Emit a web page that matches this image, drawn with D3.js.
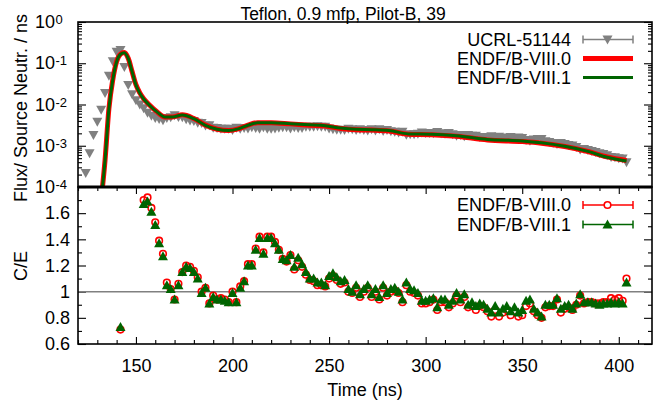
<!DOCTYPE html>
<html>
<head>
<meta charset="utf-8">
<script src="https://cdn.jsdelivr.net/npm/d3@7"></script>
<style>
body { margin: 0; background: #fff; }
text { font-family: "Liberation Sans", Arial, Helvetica, sans-serif; fill: #000; }
</style>
</head>
<body>
<script>
// measured flux (UCRL-51144), ns / flux per source neutron
var expTime = [124,126,128,130,132,134,136,138,140,142,144,146,148,150,152,154,156,158,160,162,
  164,166,168,170,172,174,176,178,180,182,184,186,188,190,192,194,196,198,200,202,
  204,206,208,210,212,214,216,218,220,222,224,226,228,230,232,234,236,238,240,242,
  244,246,248,250,252,254,256,258,260,262,264,266,268,270,272,274,276,278,280,282,
  284,286,288,290,292,294,296,298,300,302,304,306,308,310,312,314,316,318,320,322,
  324,326,328,330,332,334,336,338,340,342,344,346,348,350,352,354,356,358,360,362,
  364,366,368,370,372,374,376,378,380,382,384,386,388,390,392,394,396,398,400,402,404];
var expFlux = [2.19e-4,6.61e-4,1.82e-3,3.80e-3,7.41e-3,1.91e-2,5.01e-2,0.112,0.191,0.209,
  8.13e-2,2.95e-2,1.78e-2,1.26e-2,1.00e-2,8.13e-3,6.31e-3,5.37e-3,4.68e-3,4.47e-3,
  4.17e-3,4.68e-3,4.90e-3,5.50e-3,5.01e-3,4.90e-3,4.37e-3,4.07e-3,3.98e-3,3.63e-3,
  3.55e-3,3.09e-3,3.16e-3,2.75e-3,2.69e-3,2.57e-3,2.57e-3,2.57e-3,2.40e-3,2.75e-3,
  2.57e-3,2.69e-3,2.63e-3,2.82e-3,2.69e-3,2.57e-3,2.82e-3,2.57e-3,2.57e-3,2.63e-3,
  2.75e-3,2.82e-3,2.82e-3,2.63e-3,2.82e-3,2.69e-3,2.69e-3,2.88e-3,2.88e-3,2.88e-3,
  2.95e-3,2.88e-3,2.88e-3,2.63e-3,2.51e-3,2.45e-3,2.45e-3,2.40e-3,2.57e-3,2.51e-3,
  2.40e-3,2.51e-3,2.40e-3,2.34e-3,2.51e-3,2.34e-3,2.51e-3,2.29e-3,2.40e-3,2.24e-3,
  2.19e-3,2.09e-3,2.19e-3,1.86e-3,1.91e-3,1.91e-3,1.95e-3,2.09e-3,2.04e-3,2.04e-3,
  2.00e-3,2.14e-3,2.00e-3,1.95e-3,2.04e-3,1.91e-3,1.74e-3,1.82e-3,1.70e-3,1.82e-3,
  1.74e-3,1.74e-3,1.62e-3,1.62e-3,1.62e-3,1.70e-3,1.58e-3,1.66e-3,1.58e-3,1.55e-3,
  1.62e-3,1.51e-3,1.58e-3,1.55e-3,1.38e-3,1.32e-3,1.41e-3,1.45e-3,1.45e-3,1.29e-3,
  1.23e-3,1.17e-3,1.10e-3,1.17e-3,1.10e-3,1.05e-3,1.02e-3,9.33e-4,8.13e-4,8.32e-4,
  7.94e-4,7.41e-4,7.08e-4,6.61e-4,6.31e-4,5.89e-4,5.37e-4,5.25e-4,5.01e-4,4.90e-4,3.98e-4];

// calculated flux curves
var calcTime = [132,134,136,138,140,142,144,146,148,150,152,154,157,161,165,169,174,180,186,192,
  198,203,208,213,220,230,240,248,256,264,272,281,291,303,316,332,350,360,372,384,394,404];
var calcB80 = [5.0e-5,4.47e-4,7.94e-3,3.98e-2,0.110,0.166,0.182,0.132,6.31e-2,3.02e-2,
  1.91e-2,1.38e-2,9.77e-3,6.61e-3,5.01e-3,5.01e-3,5.62e-3,4.57e-3,3.16e-3,2.51e-3,
  2.34e-3,2.57e-3,3.16e-3,3.63e-3,3.63e-3,3.39e-3,3.16e-3,3.02e-3,2.63e-3,2.45e-3,
  2.40e-3,2.29e-3,1.91e-3,1.86e-3,1.70e-3,1.38e-3,1.26e-3,1.15e-3,9.55e-4,7.24e-4,5.37e-4,4.37e-4];
var calcB81 = [5.0e-5,4.40e-4,7.80e-3,3.94e-2,0.109,0.165,0.180,0.131,6.24e-2,2.98e-2,
  1.88e-2,1.36e-2,9.60e-3,6.52e-3,4.96e-3,4.98e-3,5.58e-3,4.53e-3,3.13e-3,2.50e-3,
  2.33e-3,2.56e-3,3.14e-3,3.60e-3,3.61e-3,3.42e-3,3.22e-3,3.07e-3,2.68e-3,2.50e-3,
  2.45e-3,2.34e-3,1.94e-3,1.90e-3,1.74e-3,1.42e-3,1.31e-3,1.18e-3,9.70e-4,7.30e-4,5.25e-4,4.25e-4];

// C/E ratios
var ceTime = [142,154,156,158,160,162,164,166,168,170,172,174,176,178,180,182,184,186,188,190,
  192,194,196,198,200,202,204,206,208,210,212,214,216,218,220,222,224,226,228,230,
  232,234,236,238,240,242,244,246,248,250,252,254,256,258,260,262,264,266,268,270,
  272,274,276,278,280,282,284,286,288,290,292,294,296,298,300,302,304,306,308,310,
  312,314,316,318,320,322,324,326,328,330,332,334,336,338,340,342,344,346,348,350,
  352,354,356,358,360,362,364,366,368,370,372,374,376,378,380,382,384,386,388,390,
  392,394,396,398,400,402,404];
var ceB80 = [0.71,1.70,1.72,1.64,1.53,1.39,1.29,1.07,1.02,0.94,
  1.06,1.15,1.20,1.19,1.16,1.11,1.00,1.03,0.91,0.97,
  0.94,0.95,0.94,0.92,1.00,0.92,1.04,1.08,1.21,1.21,
  1.33,1.42,1.30,1.42,1.42,1.38,1.32,1.25,1.23,1.28,
  1.17,1.24,1.19,1.13,1.09,1.08,1.05,1.05,1.04,1.10,
  1.12,1.09,1.06,1.07,1.00,0.99,1.03,0.96,1.00,1.03,
  0.96,1.00,0.94,1.03,0.97,1.00,1.01,0.99,0.92,1.05,
  1.00,0.99,0.97,0.91,0.91,0.92,0.94,0.86,0.92,0.92,
  0.88,0.91,0.97,0.92,0.96,0.88,0.89,0.86,0.89,0.88,
  0.85,0.81,0.86,0.81,0.84,0.86,0.82,0.85,0.81,0.82,
  0.89,0.91,0.85,0.82,0.80,0.88,0.89,0.89,0.94,0.84,
  0.87,0.88,0.86,0.90,0.97,0.91,0.92,0.92,0.91,0.91,
  0.92,0.92,0.95,0.94,0.95,0.93,1.10];
var ceB81 = [0.73,1.67,1.69,1.61,1.51,1.37,1.27,1.05,1.02,0.94,
  1.05,1.15,1.19,1.18,1.15,1.10,0.99,1.03,0.91,0.96,
  0.94,0.94,0.93,0.92,0.99,0.92,1.03,1.08,1.20,1.20,
  1.32,1.41,1.29,1.41,1.41,1.37,1.32,1.25,1.24,1.28,
  1.19,1.26,1.21,1.15,1.10,1.10,1.07,1.07,1.05,1.12,
  1.14,1.11,1.08,1.09,1.02,1.00,1.05,0.98,1.02,1.05,
  0.98,1.02,0.96,1.05,0.99,1.02,1.03,1.00,0.94,1.07,
  1.02,1.01,0.99,0.93,0.93,0.94,0.95,0.88,0.94,0.94,
  0.90,0.93,0.99,0.94,0.98,0.90,0.92,0.89,0.91,0.90,
  0.87,0.84,0.89,0.84,0.87,0.89,0.85,0.88,0.84,0.86,
  0.93,0.94,0.87,0.84,0.81,0.90,0.90,0.90,0.95,0.87,
  0.89,0.90,0.87,0.91,0.98,0.92,0.92,0.92,0.91,0.90,
  0.91,0.91,0.92,0.91,0.92,0.91,1.07];

var xMajor = [150, 200, 250, 300, 350, 400];
var topMajor = [1, 1e-1, 1e-2, 1e-3, 1e-4];
var topExp = ['0', '-1', '-2', '-3', '-4'];
var botMajor = [0.6, 0.8, 1, 1.2, 1.4, 1.6];
var botMinor = [0.7, 0.9, 1.1, 1.3, 1.5, 1.7];

var width = 654, height = 401;
var L = 78, R = 652, T1 = 22, B1 = 187, T2 = 187, B2 = 344;
var grey = '#808080', red = '#ff0000', green = '#006400';

var svg = d3.select('body').append('svg')
  .attr('width', width)
  .attr('height', height);

var x = d3.scaleLinear().domain([120, 417.2]).range([L, R]);
var yTop = d3.scaleLog().domain([1e-4, 1]).range([B1, T1]);
var yBot = d3.scaleLinear().domain([0.6, 1.8]).range([B2, T2]);

var defs = svg.append('defs');
defs.append('clipPath').attr('id', 'clipTop').append('rect')
  .attr('x', L).attr('y', T1).attr('width', R - L).attr('height', B1 - T1);
defs.append('clipPath').attr('id', 'clipBot').append('rect')
  .attr('x', L).attr('y', T2).attr('width', R - L).attr('height', B2 - T2);

function tidy(g) {
  g.select('.domain').remove();
  g.selectAll('.tick line').attr('stroke', '#000').attr('stroke-width', 1.1);
  g.attr('font-size', 18).attr('font-family', null);
}

// ---- top panel ticks
var topMinor = [];
[1e-4, 1e-3, 1e-2, 1e-1].forEach(function(d) {
  for (var m = 2; m < 10; m++) topMinor.push(d * m);
});

svg.append('g').attr('transform', 'translate(' + L + ',0)')
  .call(d3.axisLeft(yTop).tickValues(topMajor).tickSize(-8).tickFormat('')).call(tidy);
svg.append('g').attr('transform', 'translate(' + L + ',0)')
  .call(d3.axisLeft(yTop).tickValues(topMinor).tickSize(-4).tickFormat('')).call(tidy);
svg.append('g').attr('transform', 'translate(' + R + ',0)')
  .call(d3.axisRight(yTop).tickValues(topMajor).tickSize(-8).tickFormat('')).call(tidy);
svg.append('g').attr('transform', 'translate(' + R + ',0)')
  .call(d3.axisRight(yTop).tickValues(topMinor).tickSize(-4).tickFormat('')).call(tidy);

var topLab = svg.append('g').selectAll('g').data(topMajor).enter().append('g')
  .attr('transform', function(d) { return 'translate(0,' + yTop(d) + ')'; });
topLab.append('text').attr('x', 55).attr('y', 6).attr('text-anchor', 'end')
  .style('font-size', '18px').text('10');
topLab.append('text').attr('x', 55.5).attr('y', 2).attr('text-anchor', 'start')
  .style('font-size', '13px').text(function(d, i) { return topExp[i]; });

// ---- bottom panel ticks
var xMinor = d3.range(120, 411, 10).filter(function(d) { return xMajor.indexOf(d) < 0; });

svg.append('g').attr('transform', 'translate(0,' + B2 + ')')
  .call(d3.axisBottom(x).tickValues(xMajor).tickSize(-7).tickPadding(15)).call(tidy);
svg.append('g').attr('transform', 'translate(0,' + B2 + ')')
  .call(d3.axisBottom(x).tickValues(xMinor).tickSize(-4).tickFormat('')).call(tidy);
svg.append('g').attr('transform', 'translate(0,' + T2 + ')')
  .call(d3.axisTop(x).tickValues(xMajor).tickSize(-7).tickFormat('')).call(tidy);
svg.append('g').attr('transform', 'translate(0,' + T2 + ')')
  .call(d3.axisTop(x).tickValues(xMinor).tickSize(-4).tickFormat('')).call(tidy);

svg.append('g').attr('transform', 'translate(' + L + ',0)')
  .call(d3.axisLeft(yBot).tickValues(botMajor).tickSize(-8).tickPadding(8)
    .tickFormat(function(d) { return String(+d.toFixed(1)); })).call(tidy);
svg.append('g').attr('transform', 'translate(' + L + ',0)')
  .call(d3.axisLeft(yBot).tickValues(botMinor).tickSize(-4).tickFormat('')).call(tidy);
svg.append('g').attr('transform', 'translate(' + R + ',0)')
  .call(d3.axisRight(yBot).tickValues(botMajor).tickSize(-8).tickFormat('')).call(tidy);
svg.append('g').attr('transform', 'translate(' + R + ',0)')
  .call(d3.axisRight(yBot).tickValues(botMinor).tickSize(-4).tickFormat('')).call(tidy);

// ---- top panel data
var exp = expTime.map(function(t, i) { return { t: t, v: expFlux[i] }; });
var c80 = calcTime.map(function(t, i) { return { t: t, v: calcB80[i] }; });
var c81 = calcTime.map(function(t, i) { return { t: t, v: calcB81[i] }; });

var gTop = svg.append('g').attr('clip-path', 'url(#clipTop)');

gTop.selectAll('path.exp').data(exp).enter().append('path')
  .attr('class', 'exp')
  .attr('d', function(d) {
    var px = x(d.t), py = yTop(d.v);
    return 'M' + (px - 5) + ',' + (py - 4) + 'L' + (px + 5) + ',' + (py - 4) + 'L' + px + ',' + (py + 5) + 'Z';
  })
  .attr('fill', grey);

var line = d3.line()
  .x(function(d) { return x(d.t); })
  .y(function(d) { return yTop(d.v); })
  .curve(d3.curveMonotoneX);

gTop.append('path').datum(c80).attr('d', line)
  .attr('fill', 'none').attr('stroke', red).attr('stroke-width', 5);
gTop.append('path').datum(c81).attr('d', line)
  .attr('fill', 'none').attr('stroke', green).attr('stroke-width', 3);

// ---- bottom panel data
var gBot = svg.append('g').attr('clip-path', 'url(#clipBot)');

gBot.append('line')
  .attr('x1', L).attr('x2', R)
  .attr('y1', yBot(1)).attr('y2', yBot(1))
  .attr('stroke', grey).attr('stroke-width', 1.5);

gBot.selectAll('circle').data(ceTime).enter().append('circle')
  .attr('cx', function(d) { return x(d); })
  .attr('cy', function(d, i) { return yBot(ceB80[i]); })
  .attr('r', 3.3)
  .attr('fill', 'none').attr('stroke', red).attr('stroke-width', 1.6);

function upTri(px, py) {
  return 'M' + (px - 5) + ',' + (py + 4) + 'L' + (px + 5) + ',' + (py + 4) + 'L' + px + ',' + (py - 5) + 'Z';
}

gBot.selectAll('path.tri').data(ceTime).enter().append('path')
  .attr('class', 'tri')
  .attr('d', function(d, i) { return upTri(x(d), yBot(ceB81[i])); })
  .attr('fill', green);

// ---- frames
svg.append('rect').attr('x', L).attr('y', T1).attr('width', R - L).attr('height', B1 - T1)
  .attr('fill', 'none').attr('stroke', '#000').attr('stroke-width', 1.6);
svg.append('rect').attr('x', L).attr('y', T2).attr('width', R - L).attr('height', B2 - T2)
  .attr('fill', 'none').attr('stroke', '#000').attr('stroke-width', 1.6);
svg.append('line').attr('x1', L).attr('x2', R).attr('y1', B1).attr('y2', B1)
  .attr('stroke', '#000').attr('stroke-width', 3);

// ---- legends
var lx1 = 583, lx2 = 633, lmid = 607.5, ltx = 571;

function legendText(y, s) {
  svg.append('text').attr('x', ltx).attr('y', y).attr('dy', '0.35em')
    .attr('text-anchor', 'end').style('font-size', '18px').text(s);
}
function errBar(y, col) {
  svg.append('line').attr('x1', lx1).attr('x2', lx2).attr('y1', y).attr('y2', y)
    .attr('stroke', col).attr('stroke-width', 1.5);
  [lx1, lx2].forEach(function(px) {
    svg.append('line').attr('x1', px).attr('x2', px).attr('y1', y - 4).attr('y2', y + 4)
      .attr('stroke', col).attr('stroke-width', 1.5);
  });
}

legendText(39.5, 'UCRL-51144');
errBar(39.5, grey);
svg.append('path')
  .attr('d', 'M' + (lmid - 5) + ',' + (39.5 - 4) + 'L' + (lmid + 5) + ',' + (39.5 - 4) + 'L' + lmid + ',' + (39.5 + 5) + 'Z')
  .attr('fill', grey);

legendText(58.5, 'ENDF/B-VIII.0');
svg.append('line').attr('x1', lx1).attr('x2', lx2).attr('y1', 58.5).attr('y2', 58.5)
  .attr('stroke', red).attr('stroke-width', 5);

legendText(77.5, 'ENDF/B-VIII.1');
svg.append('line').attr('x1', lx1).attr('x2', lx2).attr('y1', 77.5).attr('y2', 77.5)
  .attr('stroke', green).attr('stroke-width', 3);

legendText(205, 'ENDF/B-VIII.0');
errBar(205, red);
svg.append('circle').attr('cx', lmid).attr('cy', 205).attr('r', 3.3)
  .attr('fill', '#fff').attr('stroke', red).attr('stroke-width', 1.6);

legendText(224.5, 'ENDF/B-VIII.1');
errBar(224.5, green);
svg.append('path').attr('d', upTri(lmid, 224.5)).attr('fill', green);

// ---- titles
svg.append('text').attr('x', 343).attr('y', 20).attr('text-anchor', 'middle')
  .style('font-size', '17.5px').text('Teflon, 0.9 mfp, Pilot-B, 39');

svg.append('text').attr('transform', 'translate(27,108) rotate(-90)')
  .attr('text-anchor', 'middle').style('font-size', '18px').text('Flux/ Source Neutr. / ns');
svg.append('text').attr('transform', 'translate(27,266) rotate(-90)')
  .attr('text-anchor', 'middle').style('font-size', '18px').text('C/E');

svg.append('text').attr('x', 365).attr('y', 396).attr('text-anchor', 'middle')
  .style('font-size', '18px').text('Time (ns)');
</script>
</body>
</html>
